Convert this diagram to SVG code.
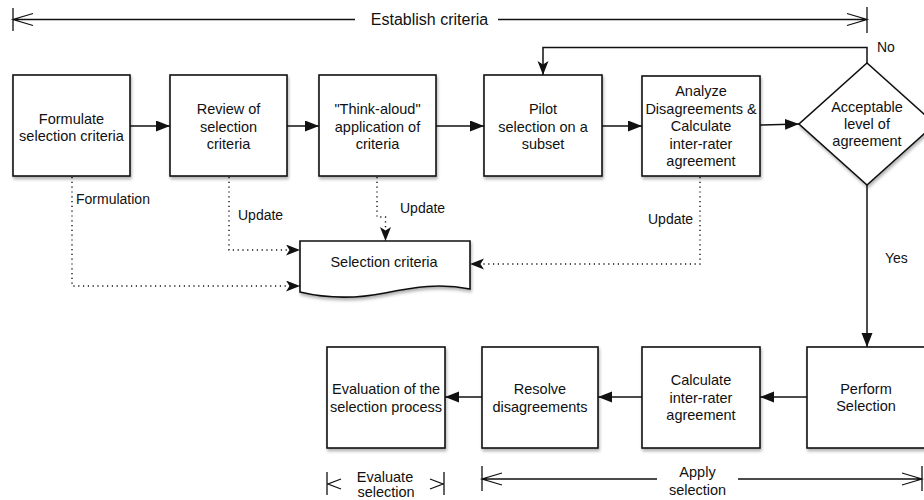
<svg xmlns="http://www.w3.org/2000/svg" width="924" height="500" viewBox="0 0 924 500">
<style>
.box{fill:#fff;stroke:#111;stroke-width:1.6;filter:url(#sh)}
.t{font-family:"Liberation Sans",Arial,Helvetica,sans-serif;font-size:14.5px;fill:#111;text-anchor:middle}
.l{font-family:"Liberation Sans",Arial,Helvetica,sans-serif;font-size:14px;fill:#111}
.c{fill:none;stroke:#111;stroke-width:1.5}
.d{fill:none;stroke:#111;stroke-width:1.4;stroke-dasharray:1.2 3.6}
.r{fill:none;stroke:#111;stroke-width:1.3}
</style>
<defs>
<filter id="sh" x="-10%" y="-10%" width="130%" height="130%">
<feDropShadow dx="1" dy="2.5" stdDeviation="1.8" flood-color="#000" flood-opacity="0.3"/>
</filter>
<marker id="a" markerUnits="userSpaceOnUse" markerWidth="15" markerHeight="12" refX="14" refY="5.5" orient="auto">
<path d="M0,0 L14,5.5 L0,11 z" fill="#111"/>
</marker>
<marker id="n" markerUnits="userSpaceOnUse" markerWidth="15" markerHeight="12" refX="14" refY="5.5" orient="auto">
<path d="M0,0 L14,5.5 L0,11 L3.5,5.5 z" fill="#111"/>
</marker>
</defs>

<g id="establish">
<path class="r" d="M13,8 V31 M13,19.5 H355 M498,19.5 H867 M867,7 V33 M33,13.5 L13,19.5 L33,25.5 M847,13.5 L867,19.5 L847,25.5"/>
<text class="t" x="429.5" y="25" style="font-size:16px">Establish criteria</text>
</g>

<g id="n1"><rect class="box" x="13" y="75" width="117" height="101"/>
<text class="t" x="71.5" y="123.5">Formulate</text><text class="t" x="71.5" y="141">selection criteria</text></g>
<g id="n2"><rect class="box" x="170" y="75" width="117" height="101"/>
<text class="t" x="228.5" y="114">Review of</text><text class="t" x="228.5" y="131.5">selection</text><text class="t" x="228.5" y="149">criteria</text></g>
<g id="n3"><rect class="box" x="319" y="75" width="117" height="101"/>
<text class="t" x="377.5" y="114">"Think-aloud"</text><text class="t" x="377.5" y="131.5">application of</text><text class="t" x="377.5" y="149">criteria</text></g>
<g id="n4"><rect class="box" x="484" y="75" width="118" height="101"/>
<text class="t" x="543" y="114">Pilot</text><text class="t" x="543" y="131.5">selection on a</text><text class="t" x="543" y="149">subset</text></g>
<g id="n5"><rect class="box" x="642" y="76" width="118" height="100"/>
<text class="t" x="701" y="96">Analyze</text><text class="t" x="701" y="113.5">Disagreements &amp;</text><text class="t" x="701" y="131">Calculate</text><text class="t" x="701" y="148.5">inter-rater</text><text class="t" x="701" y="166">agreement</text></g>
<g id="n6"><path class="box" d="M867,63 L935,124 L867,185 L799,124 Z"/>
<text class="t" x="867" y="111.5">Acceptable</text><text class="t" x="867" y="128.5">level of</text><text class="t" x="867" y="145.5">agreement</text></g>

<g id="doc"><path class="box" d="M300,241 H470 V289 C440,283 415,287 385,293 C355,299 325,298 300,292 Z"/>
<text class="t" x="384" y="267">Selection criteria</text></g>

<g id="n7"><rect class="box" x="327" y="347" width="118" height="101"/>
<text class="t" x="386" y="394">Evaluation of the</text><text class="t" x="386" y="411.5">selection process</text></g>
<g id="n8"><rect class="box" x="482" y="347" width="116" height="101"/>
<text class="t" x="540" y="394">Resolve</text><text class="t" x="540" y="411.5">disagreements</text></g>
<g id="n9"><rect class="box" x="642" y="347" width="118" height="101"/>
<text class="t" x="701" y="385">Calculate</text><text class="t" x="701" y="402.5">inter-rater</text><text class="t" x="701" y="420">agreement</text></g>
<g id="n10"><rect class="box" x="807" y="347" width="118" height="101"/>
<text class="t" x="866" y="393.5">Perform</text><text class="t" x="866" y="411">Selection</text></g>

<g id="connectors">
<path class="c" d="M130,126 H170" marker-end="url(#a)"/>
<path class="c" d="M287,126 H319" marker-end="url(#a)"/>
<path class="c" d="M436,126 H484" marker-end="url(#a)"/>
<path class="c" d="M602,126 H642" marker-end="url(#a)"/>
<path class="c" d="M760,125 L799,124" marker-end="url(#a)"/>
<path class="c" d="M867,63 V47.5 H543 V75" marker-end="url(#n)"/>
<path class="c" d="M867,185 V347" marker-end="url(#a)"/>
<path class="c" d="M807,397 H760" marker-end="url(#a)"/>
<path class="c" d="M642,397 H598" marker-end="url(#a)"/>
<path class="c" d="M482,397 H445" marker-end="url(#a)"/>
<path class="d" d="M72,177 V286 H300" marker-end="url(#n)"/>
<path class="d" d="M229,177 V250 H300" marker-end="url(#n)"/>
<path class="d" d="M377,177 V217 H385.5 V241" marker-end="url(#n)"/>
<path class="d" d="M700,177 V264 H470" marker-end="url(#n)"/>
<text class="l" x="76" y="204">Formulation</text>
<text class="l" x="238" y="219.5">Update</text>
<text class="l" x="400" y="213">Update</text>
<text class="l" x="648" y="224">Update</text>
<text class="l" x="877" y="52">No</text>
<text class="l" x="885" y="263">Yes</text>
</g>

<g id="evaluate">
<path class="r" d="M327,472 V495 M341,479 L328,484 L341,489 M444,472 V495 M430,479 L443,484 L430,489"/>
<text class="t" x="385" y="482">Evaluate</text><text class="t" x="386" y="497">selection</text>
</g>
<g id="apply">
<path class="r" d="M482,466 V491 M482,479 H657 M738,479 H922 M922,466 V491 M502,473 L482,479 L502,485 M902,473 L922,479 L902,485"/>
<text class="t" x="697.5" y="477">Apply</text><text class="t" x="697.5" y="494.5">selection</text>
</g>
</svg>
